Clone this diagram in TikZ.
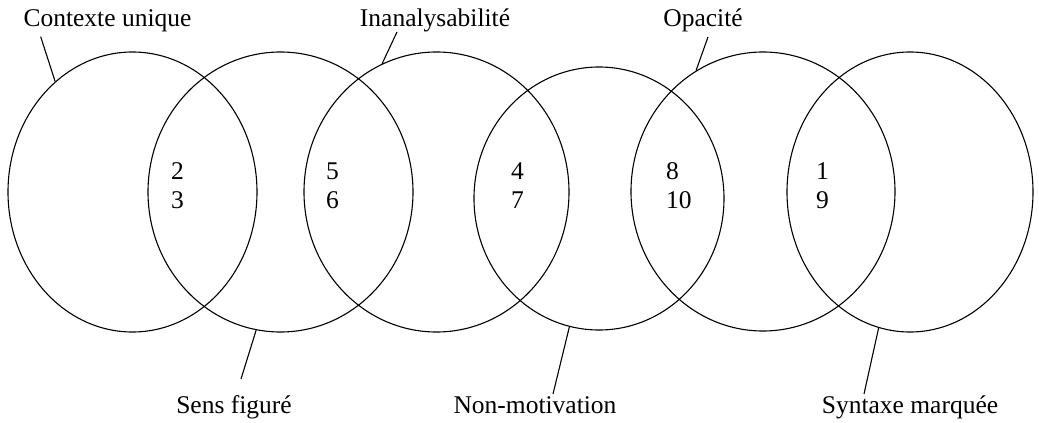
\documentclass[tikz,border=0pt]{standalone}
\usepackage{fontspec}
\setmainfont{Liberation Serif}
\usetikzlibrary{shapes.geometric}
\begin{document}
\begin{tikzpicture}[x=1pt,y=-1pt,
  set/.style={draw,ellipse,line width=1.1pt,inner sep=0pt,minimum width=#1},
  lbl/.style={inner sep=0pt,anchor=base,font=\fontsize{25.5}{30}\selectfont},
  num/.style={inner sep=0pt,anchor=base west,font=\fontsize{25.5}{30}\selectfont},
  leader/.style={line width=1.1pt}]
\useasboundingbox (0,0) rectangle (1039,423);
% ellipses
\node[set=249pt,minimum height=280pt] (e1) at (132.5,192) {};
\node[set=265pt,minimum height=280pt] (e2) at (280.5,192) {};
\node[set=265pt,minimum height=280pt] (e3) at (436.5,192) {};
\node[set=250pt,minimum height=263pt] (e4) at (599,198.5) {};
\node[set=264pt,minimum height=279pt] (e5) at (763,191.5) {};
\node[set=246pt,minimum height=280pt] (e6) at (910,192) {};
% labels
\node[lbl] (l1) at (107.5,27) {Contexte unique};
\node[lbl] (l3) at (435,27) {Inanalysabilité};
\node[lbl] (l5) at (703,27) {Opacité};
\node[lbl] (l2) at (234,413) {Sens figuré};
\node[lbl] (l4) at (535,413) {Non-motivation};
\node[lbl] (l6) at (910,413) {Syntaxe marquée};
% leader ends
\coordinate (c1) at (40.7,36.7);
\coordinate (c3) at (397,32);
\coordinate (c5) at (708,37);
\coordinate (c2) at (241,379);
\coordinate (c4) at (553,394);
\coordinate (c6) at (864,394);
\draw[leader] (c1) -- (e1.125.6);
\draw[leader] (c3) -- (e3.113.7);
\draw[leader] (c5) -- (e5.119.5);
\draw[leader] (c2) -- (e2.260.9);
\draw[leader] (c4) -- (e4.257.3);
\draw[leader] (c6) -- (e6.257.9);
% numbers
\node[num] (n2) at (171,179) {2};
\node[num] (n3) at (171,208) {3};
\node[num] (n5) at (326,179) {5};
\node[num] (n6) at (326,208) {6};
\node[num] (n4) at (511,179) {4};
\node[num] (n7) at (511,208) {7};
\node[num] (n8) at (666,179) {8};
\node[num] (n10) at (666,208) {10};
\node[num] (n1) at (816,179) {1};
\node[num] (n9) at (816,208) {9};
\end{tikzpicture}
\end{document}
